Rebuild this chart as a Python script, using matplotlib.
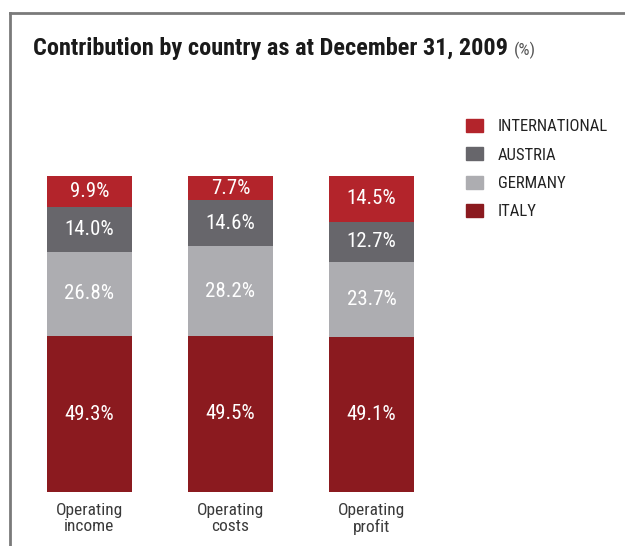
import matplotlib
matplotlib.use("Agg")
import matplotlib.pyplot as plt
from matplotlib.patches import Patch
from matplotlib.lines import Line2D

plt.rcParams["font.family"] = ["Roboto Condensed", "DejaVu Sans"]

categories = ["Operating\nincome", "Operating\ncosts", "Operating\nprofit"]
series = ["ITALY", "GERMANY", "AUSTRIA", "INTERNATIONAL"]
italy = [49.3, 49.5, 49.1]
germany = [26.8, 28.2, 23.7]
austria = [14.0, 14.6, 12.7]
international = [9.9, 7.7, 14.5]
colors = ["#8b1a1f", "#adadb1", "#67666b", "#b3242b"]

fig = plt.figure(figsize=(6.25, 5.46), dpi=100)
ax = fig.add_axes([0.0304, 0.0989, 0.6768, 0.5788])

values = [italy, germany, austria, international]
x = range(len(categories))
bottom = [0.0] * len(categories)
for name, vals, c in zip(series, values, colors):
    bars = ax.bar(x, vals, 0.596, bottom=bottom, color=c, linewidth=0)
    for b, v, b0 in zip(bars, vals, bottom):
        ax.text(b.get_x() + b.get_width() / 2, b0 + v / 2, f"{v:.1f}%",
                ha="center", va="center", color="white", fontsize=15)
    bottom = [b0 + v for b0, v in zip(bottom, vals)]

ax.set_xlim(-0.5, 2.5)
ax.set_ylim(0, 100)
ax.set_xticks(list(x))
ax.set_xticklabels(categories, fontsize=12.5, color="#3a3a3a", linespacing=1.1)
ax.tick_params(length=0, pad=8)
ax.set_yticks([])
for s in ax.spines.values():
    s.set_visible(False)

# legend (top to bottom: international first)
handles = [Patch(color=c) for c in colors[::-1]]
fig.legend(handles, series[::-1], loc="upper left", bbox_to_anchor=(0.722, 0.81),
           frameon=False, fontsize=12, handlelength=1.0, handleheight=0.85,
           handletextpad=0.9, labelspacing=0.78, labelcolor="#222222")

# title
t = fig.text(0.053, 0.899, "Contribution by country as at December 31, 2009",
             fontsize=17.5, fontweight="bold", color="#1a1a1a", va="baseline")
fig.canvas.draw()
bb = t.get_window_extent()
fig.text(bb.x1 / fig.bbox.width + 0.009, 0.899, "(%)", fontsize=12.5,
         color="#555555", va="baseline")

# frame lines
fig.add_artist(Line2D([0.016, 1.0], [0.976, 0.976], color="#7a7a7a", lw=2))
fig.add_artist(Line2D([0.016, 0.016], [0.0, 0.976], color="#7a7a7a", lw=2))

fig.savefig("out.png", dpi=100)
